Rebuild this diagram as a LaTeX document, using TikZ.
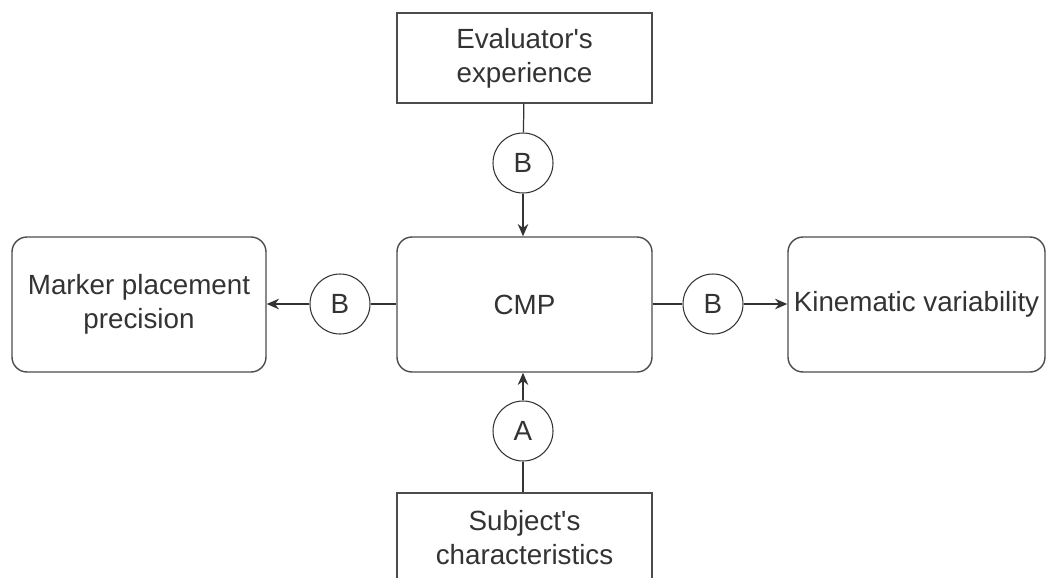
\documentclass[tikz,border=0pt]{standalone}
\usepackage{fontspec}
\setmainfont{Liberation Sans}
\usetikzlibrary{arrows.meta}

\begin{document}
\begin{tikzpicture}[
 font=\fontsize{15.8}{19.4}\selectfont,>=Stealth,
 box/.style={draw=black!70,line width=0.8pt,align=center,minimum width=5.1cm,inner sep=2pt,text=black!80},
 rbox/.style={box,rounded corners=0.3cm,minimum height=2.7cm},
 sbox/.style={box,minimum height=1.8cm},
 tag/.style={draw=black!80,circle,line width=0.6pt,minimum size=1.2cm,inner sep=0pt,text=black!80},
 link/.style={draw=black!80,line width=0.7pt},
 flow/.style={link,-{Stealth[length=7pt,width=6pt]}}]
\useasboundingbox (0,0) rectangle (20.92,-11.54);
\node[sbox] (eval) at (10.49,-1.16) {Evaluator\textquotesingle s\\experience};
\node[rbox] (cmp) at (10.49,-6.09) {CMP};
\node[rbox,minimum width=5.08cm] (marker) at (2.78,-6.09) {Marker placement\\precision};
\node[rbox,minimum width=5.14cm] (kin) at (18.33,-6.09) {Kinematic variability};
\node[sbox] (subj) at (10.49,-10.76) {Subject\textquotesingle s\\characteristics};
\node[tag] (bt) at (10.46,-3.26) {B};
\node[tag] (bl) at (6.8,-6.08) {B};
\node[tag] (br) at (14.26,-6.08) {B};
\node[tag] (ab) at (10.46,-8.62) {A};
\draw[link] (eval) -- (bt);
\draw[flow] (bt) -- (bt |- cmp.north);
\draw[link] (cmp.west |- bl) -- (bl);
\draw[flow] (bl) -- (marker.east |- bl);
\draw[link] (cmp.east |- br) -- (br);
\draw[flow] (br) -- (kin.west |- br);
\draw[link] (subj.north -| ab) -- (ab);
\draw[flow] (ab) -- (ab |- cmp.south);
\end{tikzpicture}
\end{document}
